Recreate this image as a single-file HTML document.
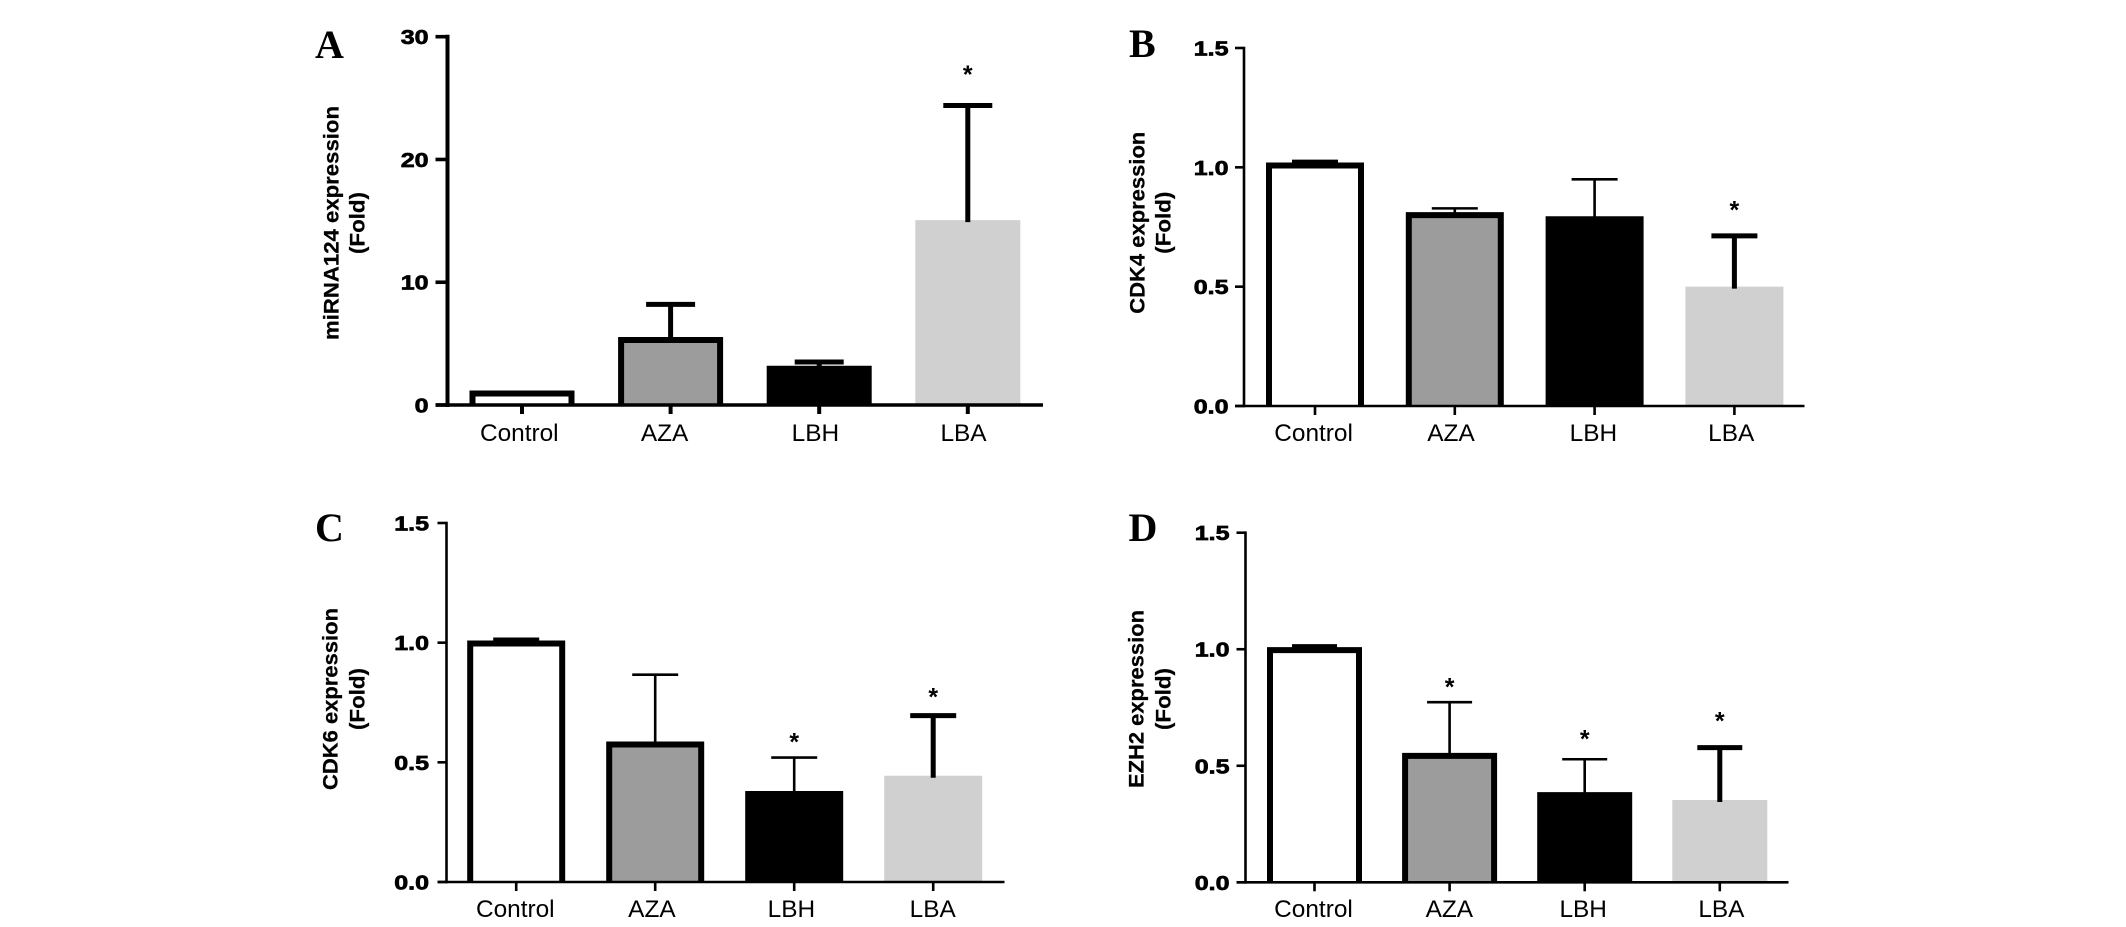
<!DOCTYPE html>
<html>
<head>
<meta charset="utf-8">
<title>Expression bar charts</title>
<style>
html,body{margin:0;padding:0;background:#fff;width:2126px;height:927px;overflow:hidden}
svg{display:block}
text{fill:#000}
.tick{font:bold 20px "Liberation Sans",sans-serif;stroke:#000;stroke-width:.7px}
.cat{font:24.4px "Liberation Sans",sans-serif}
.ttl{font:bold 21.5px "Liberation Sans",sans-serif;stroke:#000;stroke-width:.25px}
.letter{font:bold 40px "Liberation Serif",serif}
.star{font:bold 25px "Liberation Sans",sans-serif}
</style>
</head>
<body>
<svg id="figure" width="2126" height="927" viewBox="0 0 2126 927" xmlns="http://www.w3.org/2000/svg"></svg>
<script>
const categories = ['Control', 'AZA', 'LBH', 'LBA'];
const fills = ['#ffffff', '#9c9c9c', '#000000', '#d0d0d0'];

const ticksA = ['0', '10', '20', '30'];
const valuesA = [1.14, 5.5, 3.2, 15.06];
const errorsA = [null, 8.2, 3.5, 24.4];
const starsA = [null, null, null, 27.2];
const heavyA = [true, true, true, true];

const ticksB = ['0.0', '0.5', '1.0', '1.5'];
const valuesB = [1.018, 0.81, 0.795, 0.5];
const errorsB = [1.022, 0.828, 0.95, 0.713];
const starsB = [null, null, null, 0.835];
const heavyB = [true, false, false, true];

const ticksC = ['0.0', '0.5', '1.0', '1.5'];
const valuesC = [1.007, 0.585, 0.38, 0.444];
const errorsC = [1.011, 0.866, 0.52, 0.695];
const starsC = [null, null, 0.6, 0.788];
const heavyC = [true, false, false, true];

const ticksD = ['0.0', '0.5', '1.0', '1.5'];
const valuesD = [1.007, 0.553, 0.387, 0.353];
const errorsD = [1.011, 0.773, 0.528, 0.578];
const starsD = [null, 0.853, 0.63, 0.708];
const heavyD = [true, false, false, true];

const panels = [
  {id:'a', letter:'A', lx:315, ly:58, title:'miRNA124 expression', ticks:ticksA, values:valuesA, errors:errorsA, stars:starsA, heavy:heavyA,
   axisX:447.5, yZero:405, yTop:36.7, yMax:30, xEnd:1043, first:522, step:148.6, barW:105, capW:49, axisW:4, tickLen:12, catY:441,
   titleX:338.7, foldX:364.5, titleCy:223, titleLen:234, nudgeControl:-2.7, nudgeAZA:-6, nudgeLBH:-3.8, nudgeLBA:-4.3, labelRight:428.5},
  {id:'b', letter:'B', lx:1129, ly:57, title:'CDK4 expression', ticks:ticksB, values:valuesB, errors:errorsB, stars:starsB, heavy:heavyB,
   axisX:1244, yZero:406, yTop:48, yMax:1.5, xEnd:1804.5, first:1315, step:139.8, barW:98, capW:46, axisW:2.6, tickLen:9, catY:441,
   titleX:1144.7, foldX:1170.5, titleCy:222.7, titleLen:182, nudgeControl:-1.4, nudgeAZA:-3.8, nudgeLBH:-1.2, nudgeLBA:-3.2, labelRight:1228.5},
  {id:'c', letter:'C', lx:315, ly:541, title:'CDK6 expression', ticks:ticksC, values:valuesC, errors:errorsC, stars:starsC, heavy:heavyC,
   axisX:446.5, yZero:882, yTop:523, yMax:1.5, xEnd:1004.5, first:516.2, step:139, barW:98, capW:46, axisW:2.6, tickLen:9, catY:917,
   titleX:337.7, foldX:364.5, titleCy:699, titleLen:182, nudgeControl:-0.9, nudgeAZA:-3.3, nudgeLBH:-2.8, nudgeLBA:-0.5, labelRight:429},
  {id:'d', letter:'D', lx:1128.5, ly:541, title:'EZH2 expression', ticks:ticksD, values:valuesD, errors:errorsD, stars:starsD, heavy:heavyD,
   axisX:1245.5, yZero:882.3, yTop:532.7, yMax:1.5, xEnd:1788.5, first:1314.5, step:135.1, barW:95, capW:45, axisW:2.6, tickLen:9, catY:917,
   titleX:1143.7, foldX:1170.5, titleCy:699, titleLen:178, nudgeControl:-1, nudgeAZA:-0.3, nudgeLBH:-1.5, nudgeLBA:1.6, labelRight:1229.5}
];

const svg = document.getElementById('figure');
const NS = 'http://www.w3.org/2000/svg';

function make(tag, attrs, parent, content) {
  const node = document.createElementNS(NS, tag);
  for (const k in attrs) node.setAttribute(k, attrs[k]);
  if (content !== undefined) node.textContent = content;
  parent.appendChild(node);
  return node;
}

panels.forEach(function (p) {
  const yScale = function (v) { return p.yZero - (v / p.yMax) * (p.yZero - p.yTop); };
  const xScale = function (i) { return p.first + i * p.step; };

  const group = make('g', {}, svg);
  
  

  const letter = make('text', {x: p.lx, y: p.ly, 'class': 'letter'}, group, p.letter);
  
  

  const heavyStem = 5;
  const heavyCap = 5;
  const lightW = 2.6;

  p.values.forEach(function (value, i) {
    const cx = xScale(i);
    const left = cx - p.barW / 2;
    const right = cx + p.barW / 2;
    const top = yScale(value);
    const bottom = p.yZero;
    const outlined = i < 2;
    const stroke = 6;
    const barAttrs = outlined
      ? {d: 'M' + (left + stroke / 2) + ' ' + bottom + 'L' + (left + stroke / 2) + ' ' + (top + stroke / 2.4) + 'L' + (right - stroke / 2) + ' ' + (top + stroke / 2.4) + 'L' + (right - stroke / 2) + ' ' + bottom, fill: fills[i], stroke: '#000', 'stroke-width': stroke}
      : {d: 'M' + left + ' ' + bottom + 'L' + left + ' ' + top + 'L' + right + ' ' + top + 'L' + right + ' ' + bottom + 'Z', fill: fills[i]};
    const bar = make('path', barAttrs, group);
    
    

    if (p.errors[i] !== null) {
      const errY = yScale(p.errors[i]);
      const w = p.heavy[i] ? heavyStem : lightW;
      const capH = p.heavy[i] ? heavyCap : lightW;
      const stem = make('line', {x1: cx, x2: cx, y1: top + 2, y2: errY, stroke: '#000', 'stroke-width': w}, group);
      
      
      const cap = make('line', {x1: cx - p.capW / 2, x2: cx + p.capW / 2, y1: errY, y2: errY, stroke: '#000', 'stroke-width': capH}, group);
      
      
    }

    if (p.stars[i] !== null) {
      const star = make('text', {x: cx, y: yScale(p.stars[i]) + 12, 'text-anchor': 'middle', 'class': 'star'}, group, '*');
      
      
    }

    const tick = make('line', {x1: cx, x2: cx, y1: p.yZero, y2: p.yZero + 9, stroke: '#000', 'stroke-width': p.axisW}, group);
    
    

    const nudge = p['nudge' + categories[i]];
    const label = make('text', {x: cx + nudge, y: p.catY, 'text-anchor': 'middle', 'class': 'cat'}, group, categories[i]);
    
    
  });

  const yAxis = make('line', {x1: p.axisX, x2: p.axisX, y1: p.yTop - p.axisW / 2, y2: p.yZero + p.axisW / 2, stroke: '#000', 'stroke-width': p.axisW}, group);
  
  

  const xAxis = make('line', {x1: p.axisX - p.tickLen, x2: p.xEnd, y1: p.yZero, y2: p.yZero, stroke: '#000', 'stroke-width': p.axisW === 4 ? 3.6 : 2.6}, group);
  
  

  p.ticks.forEach(function (t) {
    const y = yScale(parseFloat(t));
    const mark = make('line', {x1: p.axisX - p.tickLen, x2: p.axisX, y1: y, y2: y, stroke: '#000', 'stroke-width': p.axisW === 4 ? 3.6 : 2.6}, group);
    
    
    const txt = make('text', {transform: 'translate(' + p.labelRight + ' ' + (y + 7.5) + ') scale(1.25 1)', 'text-anchor': 'end', 'class': 'tick'}, group, t);
    
    
  });

  const title = make('text', {transform: 'translate(' + p.titleX + ' ' + p.titleCy + ') rotate(-90)', 'text-anchor': 'middle', 'class': 'ttl', textLength: p.titleLen, lengthAdjust: 'spacingAndGlyphs'}, group, p.title);
  
  

  const fold = make('text', {transform: 'translate(' + p.foldX + ' ' + p.titleCy + ') rotate(-90)', 'text-anchor': 'middle', 'class': 'ttl', textLength: 62, lengthAdjust: 'spacingAndGlyphs'}, group, '(Fold)');
  
  
});
</script>
</body>
</html>
